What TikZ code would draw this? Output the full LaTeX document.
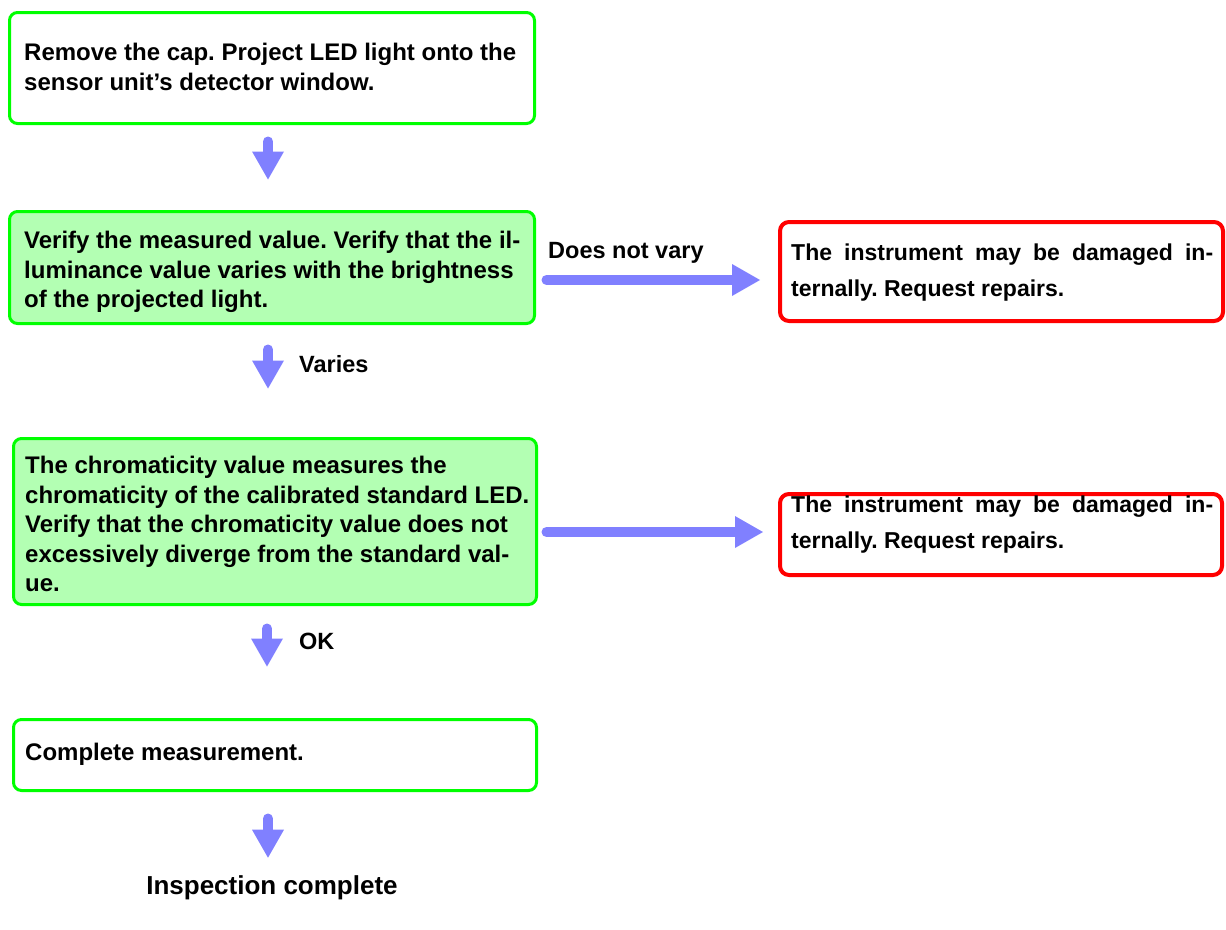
\documentclass[tikz,border=0pt]{standalone}
\usepackage{fontspec}
\setmainfont{Liberation Sans}
\usetikzlibrary{arrows.meta}
\frenchspacing

\definecolor{boxgreen}{RGB}{0,255,0}
\definecolor{fillgreen}{RGB}{179,255,179}
\definecolor{alertred}{RGB}{255,0,0}
\definecolor{flowblue}{RGB}{128,128,255}

\tikzset{
  stepbox/.style={draw=boxgreen, line width=3pt, rounded corners=8pt, inner sep=0pt},
  checkbox/.style={stepbox, fill=fillgreen},
  alertbox/.style={draw=alertred, line width=4pt, rounded corners=9pt, inner sep=0pt},
  steptext/.style={anchor=west, align=left, inner sep=0pt,
    font=\fontsize{24}{29.5}\selectfont\bfseries},
  alerttext/.style={anchor=west, align=left, inner sep=0pt,
    font=\fontsize{23}{36}\selectfont\bfseries},
  tag/.style={anchor=west, inner sep=0pt, font=\fontsize{23.5}{27}\selectfont\bfseries},
  flow/.style={draw=flowblue, line width=10pt, line cap=round,
    -{Triangle[width=32pt,length=28pt,line width=0pt]}},
}

\begin{document}
\begin{tikzpicture}[x=1pt,y=-1pt]
\useasboundingbox (0,0) rectangle (1226,929);

% boxes of the main column
\node[stepbox,  minimum width=525pt, minimum height=111pt] (b1) at (272,68) {};
\node[checkbox, minimum width=525pt, minimum height=112pt] (b2) at (272,267.5) {};
\node[checkbox, minimum width=523pt, minimum height=166pt] (b3) at (275,521.5) {};
\node[stepbox,  minimum width=523pt, minimum height=71pt]  (b4) at (275,755) {};

% repair boxes
\node[alertbox, minimum width=443pt, minimum height=99pt] (r1) at (1001.5,271.5) {};
\node[alertbox, minimum width=442pt, minimum height=81pt] (r2) at (1001,534.5) {};

% box texts
\node[steptext] (t1) at (24,67) {Remove the cap. Project LED light onto the\\sensor unit’s detector window.};
\node[steptext] (t2) at (24,272) {Verify the measured value. Verify that the il-\\luminance value varies with the brightness\\of the projected light.};
\node[steptext] (t3) at (25,524) {The chromaticity value measures the\\chromaticity of the calibrated standard LED.\\Verify that the chromaticity value does not\\excessively diverge from the standard val-\\ue.};
\node[steptext] (t4) at (25,754) {Complete measurement.};

\node[alerttext] (s1) at (791,273) {\makebox[422pt][s]{The instrument may be damaged in-}\\ternally. Request repairs.};
\node[alerttext] (s2) at (791,525) {\makebox[422pt][s]{The instrument may be damaged in-}\\ternally. Request repairs.};

% final text
\node[inner sep=0pt, font=\fontsize{26}{30}\selectfont\bfseries] (done) at (272,888) {Inspection complete};

% branch labels
\node[tag] (lnv) at (548,253) {Does not vary};
\node[tag] (lva) at (299,364) {Varies};
\node[tag] (lok) at (299,641) {OK};

% connectors
\draw[flow, shorten <=16.5pt, shorten >=30.5pt]
  ([xshift=-4pt]b1.south) -- ([xshift=-4pt]b1.south |- b2.north);
\draw[flow, shorten <=24.5pt, shorten >=48.5pt]
  ([xshift=-4pt]b2.south) -- ([xshift=-4pt]b2.south |- b3.north);
\draw[flow, shorten <=22.5pt, shorten >=51.5pt]
  ([xshift=-8pt]b3.south) -- ([xshift=-8pt]b3.south |- b4.north);
\draw[flow, shorten <=26.5pt, shorten >=18pt]
  ([xshift=-7pt]b4.south) -- ([xshift=-7pt]b4.south |- done.north);
\draw[flow, shorten <=10.5pt, shorten >=18pt]
  ([yshift=-12.5pt]b2.east) -- ([yshift=-12.5pt]b2.east -| r1.west);
\draw[flow, shorten <=8.5pt, shorten >=15pt]
  ([yshift=-10.5pt]b3.east) -- ([yshift=-10.5pt]b3.east -| r2.west);
\end{tikzpicture}
\end{document}
